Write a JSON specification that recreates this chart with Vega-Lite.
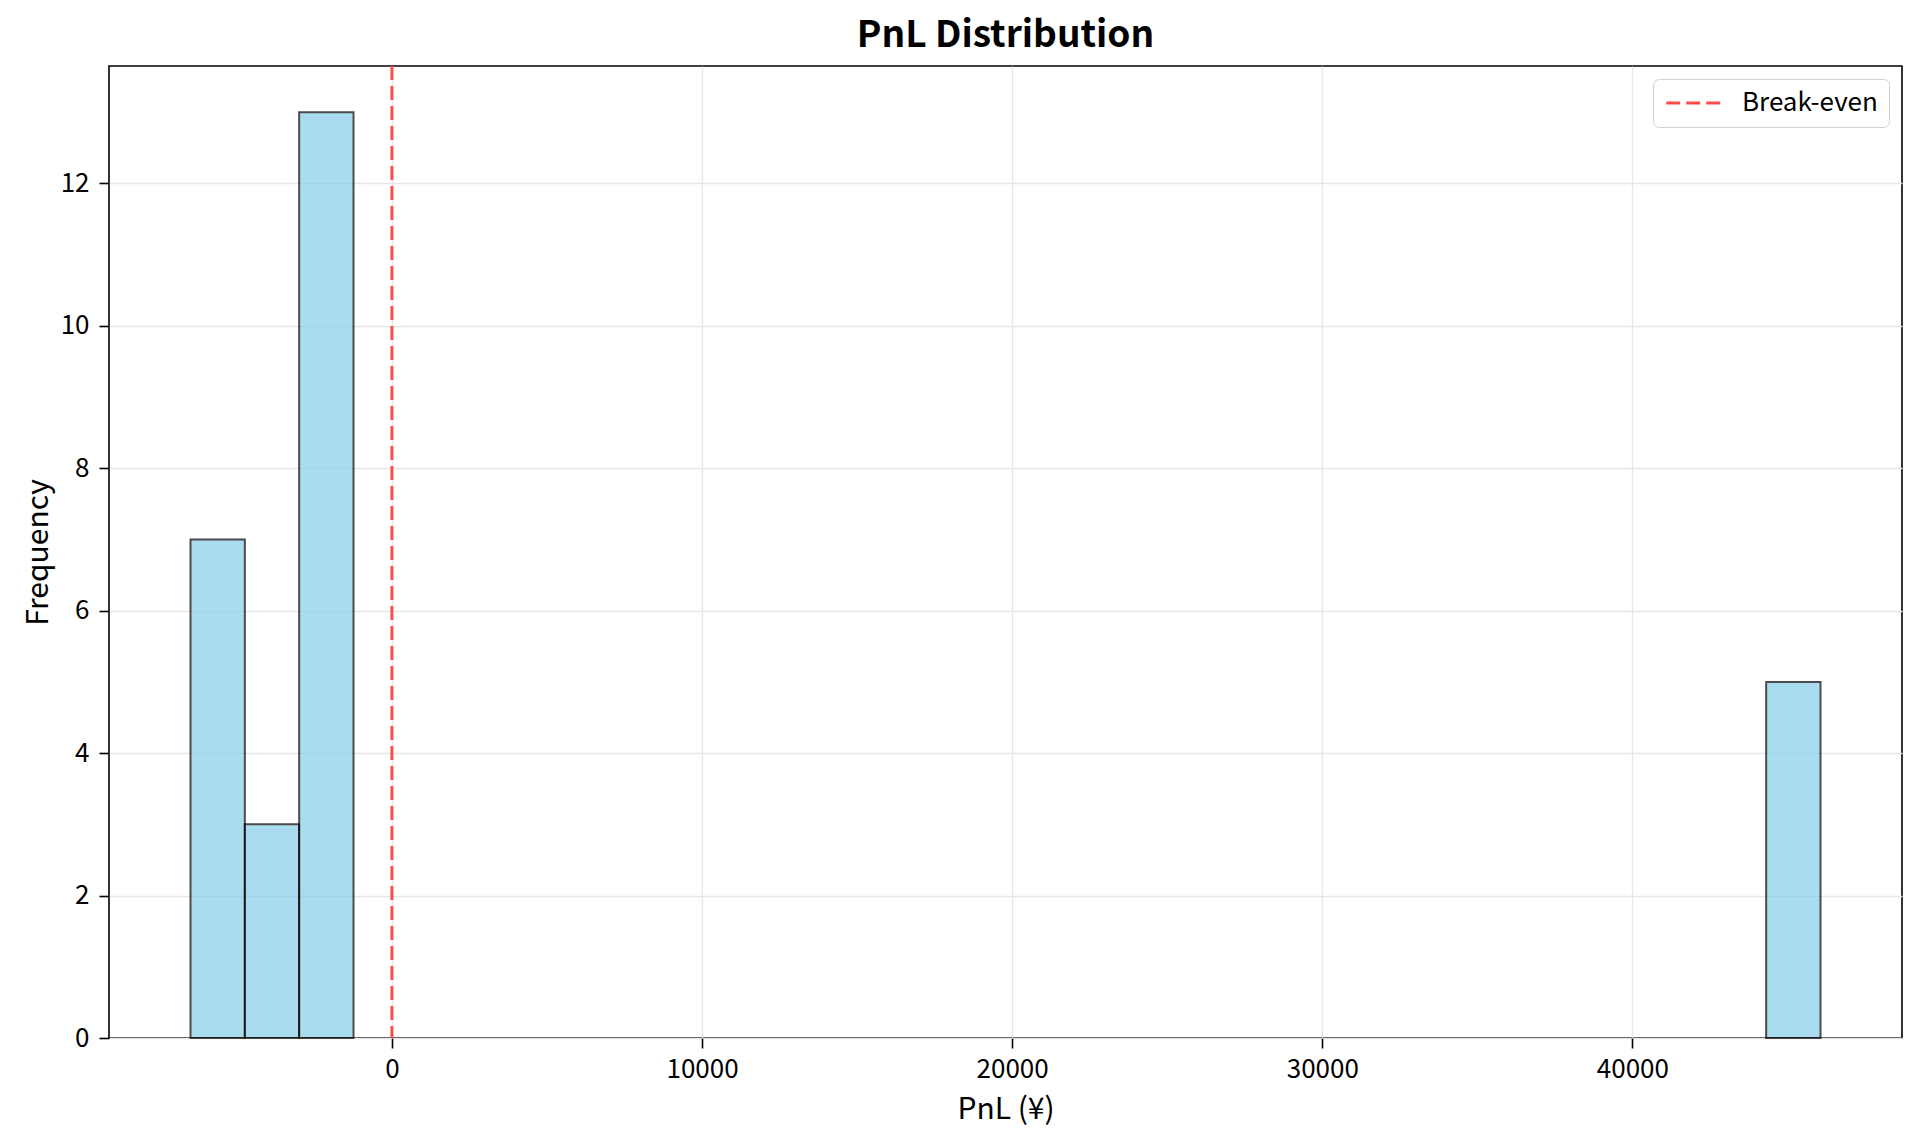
{
  "$schema": "https://vega.github.io/schema/vega-lite/v6.json",
  "width": 1793,
  "height": 972,
  "autosize": {"type": "none"},
  "padding": {"left": 109, "top": 66, "right": 18, "bottom": 107},
  "background": "white",
  "title": {
    "text": "PnL Distribution",
    "anchor": "middle",
    "frame": "group",
    "font": "Noto Sans CJK JP",
    "fontSize": 37,
    "fontWeight": "bold",
    "color": "black",
    "baseline": "alphabetic",
    "offset": 20,
    "dy": 39
  },
  "datasets": {
    "bins": [
      {"bin_start": -6494, "bin_end": -4742, "count": 7},
      {"bin_start": -4742, "bin_end": -2990, "count": 3},
      {"bin_start": -2990, "bin_end": -1238, "count": 13},
      {"bin_start": 44313, "bin_end": 46065, "count": 5}
    ],
    "lines": [
      {"value": 0, "label": "Break-even"}
    ]
  },
  "layer": [
    {
      "data": {"name": "bins"},
      "mark": {"type": "bar", "fill": "#87CEEB", "stroke": "black", "strokeWidth": 2, "opacity": 0.7},
      "encoding": {
        "x": {
          "field": "bin_start",
          "type": "quantitative",
          "scale": {"domain": [-9122, 48693], "nice": false, "zero": false},
          "axis": {
            "values": [0, 10000, 20000, 30000, 40000],
            "format": "d",
            "title": "PnL (¥)",
            "titleBaseline": "alphabetic",
            "titleY": 80
          }
        },
        "x2": {"field": "bin_end"},
        "y": {
          "field": "count",
          "type": "quantitative",
          "scale": {"domain": [0, 13.65], "nice": false},
          "axis": {
            "values": [0, 2, 4, 6, 8, 10, 12],
            "title": "Frequency",
            "titleBaseline": "alphabetic",
            "titleX": -62,
            "titleY": 486
          }
        },
        "y2": {"datum": 0}
      }
    },
    {
      "data": {"name": "lines"},
      "mark": {"type": "rule", "strokeWidth": 3, "strokeDash": [14, 6]},
      "encoding": {
        "x": {"field": "value", "type": "quantitative"},
        "color": {
          "field": "label",
          "type": "nominal",
          "scale": {"domain": ["Break-even"], "range": ["#ff4d4d"]},
          "legend": {
            "title": null,
            "orient": "top-right",
            "offset": 13,
            "symbolType": "M-1,0H4",
            "symbolSize": 467,
            "symbolStrokeWidth": 3,
            "symbolDash": [14, 6],
            "labelFontSize": 26,
            "labelFont": "Noto Sans CJK JP",
            "labelColor": "black",
            "strokeColor": "#d0d0d0",
            "fillColor": "white",
            "cornerRadius": 6,
            "padding": 11,
            "labelOffset": 52
          }
        }
      }
    }
  ],
  "config": {
    "view": {"stroke": "black", "strokeWidth": 1.6},
    "axis": {
      "domain": false,
      "grid": true,
      "gridColor": "#e6e6e6",
      "gridWidth": 1.3,
      "tickColor": "black",
      "tickSize": 10,
      "tickWidth": 1.6,
      "labelFont": "Noto Sans CJK JP",
      "labelFontSize": 26,
      "labelColor": "black",
      "titleFont": "Noto Sans CJK JP",
      "titleFontSize": 30,
      "titleFontWeight": "normal",
      "titleColor": "black"
    },
    "axisX": {"labelPadding": 8},
    "axisY": {"labelPadding": 10}
  }
}
